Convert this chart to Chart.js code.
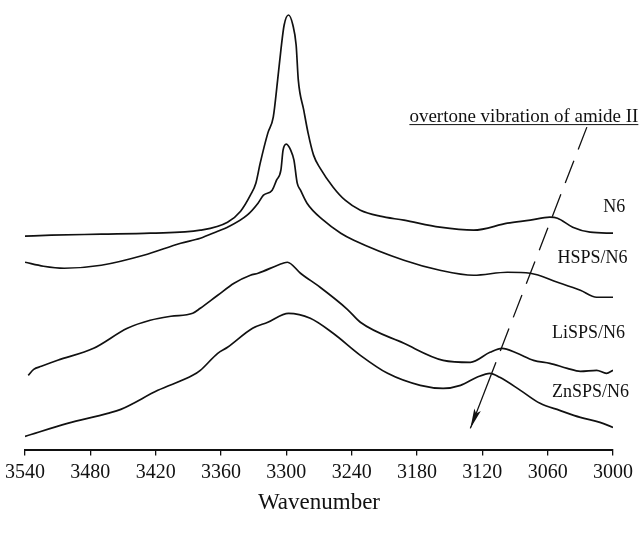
<!DOCTYPE html>
<html>
<head>
<meta charset="utf-8">
<title>N-H stretching region</title>
<script src="https://cdn.jsdelivr.net/npm/chart.js@4.4.0/dist/chart.umd.min.js"></script>
<style>
  html, body { margin: 0; padding: 0; background: #fff; }
  #wrap { width: 643px; height: 538px; position: relative; }
</style>
</head>
<body>
<div id="wrap"><canvas id="spectra"></canvas></div>
<script>
// FTIR spectra, N-H stretching region (absorbance, stacked with offsets)
const wavenumberTicks = [3540, 3480, 3420, 3360, 3300, 3240, 3180, 3120, 3060, 3000];
const seriesNames = ['N6', 'HSPS/N6', 'LiSPS/N6', 'ZnSPS/N6'];

const n6Wavenumber = [3540, 3516, 3470, 3425, 3379, 3354, 3342, 3333, 3328, 3324, 3317, 3312, 3308, 3305, 3302, 3298,
  3294, 3291, 3289, 3284, 3280, 3275, 3269, 3257, 3246, 3232, 3214, 3192, 3159, 3128, 3097, 3076, 3058, 3051, 3037, 3021, 3000];
const n6Absorbance = [2.14, 2.15, 2.16, 2.17, 2.20, 2.28, 2.39, 2.55, 2.67, 2.87, 3.17, 3.33, 3.70, 4.00, 4.25, 4.35,
  4.25, 4.05, 3.70, 3.40, 3.17, 2.95, 2.82, 2.63, 2.50, 2.40, 2.34, 2.30, 2.23, 2.20, 2.27, 2.30, 2.33, 2.32, 2.23, 2.18, 2.17];

const hspsWavenumber = [3540, 3523, 3504, 3470, 3431, 3397, 3379, 3363, 3354, 3336, 3326, 3321, 3313, 3309, 3305, 3303,
  3300, 3296, 3293, 3290, 3287, 3281, 3266, 3250, 3238, 3192, 3159, 3128, 3097, 3076, 3051, 3030, 3015, 3000];
const hspsAbsorbance = [1.88, 1.84, 1.82, 1.85, 1.95, 2.07, 2.12, 2.19, 2.23, 2.35, 2.47, 2.55, 2.60, 2.70, 2.80, 3.00,
  3.06, 3.00, 2.90, 2.67, 2.60, 2.47, 2.30, 2.17, 2.10, 1.90, 1.80, 1.75, 1.78, 1.77, 1.68, 1.60, 1.53, 1.53];

const lispsWavenumber = [3537, 3532, 3525, 3510, 3477, 3446, 3425, 3406, 3386, 3379, 3363, 3348, 3333, 3326, 3303, 3299,
  3287, 3269, 3244, 3232, 3192, 3156, 3131, 3113, 3102, 3088, 3073, 3058, 3042, 3030, 3015, 3006, 3000];
const lispsAbsorbance = [0.75, 0.81, 0.84, 0.90, 1.02, 1.22, 1.30, 1.34, 1.37, 1.42, 1.55, 1.67, 1.75, 1.77, 1.87, 1.88,
  1.77, 1.63, 1.41, 1.28, 1.07, 0.90, 0.88, 0.98, 1.02, 0.97, 0.90, 0.87, 0.82, 0.79, 0.80, 0.77, 0.80];

const znspsWavenumber = [3540, 3501, 3464, 3452, 3418, 3386, 3379, 3363, 3354, 3331, 3317, 3298, 3278, 3257, 3232, 3207,
  3177, 3156, 3140, 3125, 3113, 3104, 3085, 3067, 3049, 3030, 3012, 3000];
const znspsAbsorbance = [0.14, 0.27, 0.37, 0.41, 0.60, 0.75, 0.80, 0.97, 1.03, 1.22, 1.28, 1.37, 1.32, 1.17, 0.95, 0.77,
  0.65, 0.62, 0.65, 0.73, 0.77, 0.73, 0.60, 0.47, 0.40, 0.33, 0.28, 0.23];

// where the curve names sit (wavenumber, absorbance)
const labelWavenumber = [3009, 3051, 3056, 3056];
const labelAbsorbance = [2.43, 1.92, 1.17, 0.58];

// amide II overtone marker: dashed arrow across the curves
const arrowFrom = [3024, 3.23];
const arrowTo = [3131, 0.22];
const noteText = 'overtone vibration of amide II';
const noteAt = [3187, 3.28];

const ink = '#111';
const serif = '"Liberation Serif", "Times New Roman", serif';
Chart.defaults.font.family = serif;

function toPoints(xs, ys) {
  return xs.map((v, i) => ({ x: v, y: ys[i] }));
}

const series = [
  toPoints(n6Wavenumber, n6Absorbance),
  toPoints(hspsWavenumber, hspsAbsorbance),
  toPoints(lispsWavenumber, lispsAbsorbance),
  toPoints(znspsWavenumber, znspsAbsorbance)
];

const annotations = {
  id: 'annotations',
  afterDatasetsDraw(chart) {
    const { ctx, scales: { x, y } } = chart;
    ctx.save();
    ctx.fillStyle = ink;
    ctx.strokeStyle = ink;

    // curve names
    ctx.font = '18px ' + serif;
    ctx.textAlign = 'left';
    ctx.textBaseline = 'middle';
    seriesNames.forEach((name, i) => {
      ctx.fillText(name, x.getPixelForValue(labelWavenumber[i]), y.getPixelForValue(labelAbsorbance[i]));
    });

    // underlined note
    ctx.font = '19px ' + serif;
    ctx.textBaseline = 'alphabetic';
    const nx = x.getPixelForValue(noteAt[0]);
    const ny = y.getPixelForValue(noteAt[1]);
    ctx.fillText(noteText, nx, ny);
    const w = ctx.measureText(noteText).width;
    ctx.lineWidth = 1;
    ctx.beginPath();
    ctx.moveTo(nx, ny + 2.5);
    ctx.lineTo(nx + w, ny + 2.5);
    ctx.stroke();

    // arrow: dashed above the lowest curve, solid below it
    const x0 = x.getPixelForValue(arrowFrom[0]), y0 = y.getPixelForValue(arrowFrom[1]);
    const x1 = x.getPixelForValue(arrowTo[0]), y1 = y.getPixelForValue(arrowTo[1]);
    const split = 0.82;
    const xm = x0 + (x1 - x0) * split, ym = y0 + (y1 - y0) * split;
    ctx.lineWidth = 1.3;
    ctx.setLineDash([24, 12]);
    ctx.beginPath();
    ctx.moveTo(x0, y0);
    ctx.lineTo(xm, ym);
    ctx.stroke();
    ctx.setLineDash([]);
    ctx.beginPath();
    ctx.moveTo(xm, ym);
    ctx.lineTo(x1, y1);
    ctx.stroke();

    const ang = Math.atan2(y1 - y0, x1 - x0);
    const len = 20, half = 3.5;
    const c = Math.cos(ang), s = Math.sin(ang);
    ctx.beginPath();
    ctx.moveTo(x1, y1);
    ctx.lineTo(x1 - len * c + half * s, y1 - len * s - half * c);
    ctx.lineTo(x1 - len * c * 0.8, y1 - len * s * 0.8);
    ctx.lineTo(x1 - len * c - half * s, y1 - len * s + half * c);
    ctx.closePath();
    ctx.fill();

    ctx.restore();
  }
};

new Chart(document.getElementById('spectra'), {
  type: 'line',
  data: {
    datasets: series.map((pts, i) => ({
      label: seriesNames[i],
      data: pts,
      borderColor: ink,
      borderWidth: 1.7,
      pointRadius: 0,
      fill: false,
      cubicInterpolationMode: 'monotone'
    }))
  },
  options: {
    responsive: true,
    maintainAspectRatio: false,
    animation: false,
    events: [],
    layout: { padding: { left: 24, right: 30, top: 0, bottom: 0 } },
    plugins: {
      legend: { display: false },
      tooltip: { enabled: false }
    },
    scales: {
      x: {
        type: 'linear',
        reverse: true,
        min: 3000,
        max: 3540,
        afterBuildTicks: axis => {
          axis.ticks = wavenumberTicks.map(v => ({ value: v }));
        },
        ticks: {
          callback: v => String(v),
          color: ink,
          font: { size: 20 },
          padding: 5,
          maxRotation: 0,
          autoSkip: false
        },
        grid: {
          drawOnChartArea: false,
          drawTicks: true,
          tickLength: 5,
          color: ink,
          lineWidth: 1.3
        },
        border: { display: true, color: ink, width: 2 },
        title: {
          display: true,
          text: 'Wavenumber',
          color: ink,
          font: { size: 23 },
          padding: { top: 0, bottom: 21 }
        }
      },
      y: {
        display: false,
        min: 0,
        max: 4.5
      }
    }
  },
  plugins: [annotations]
});
</script>
</body>
</html>
